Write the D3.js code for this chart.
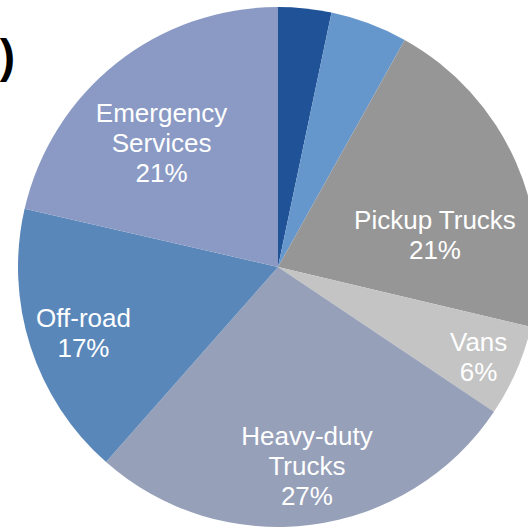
<!DOCTYPE html>
<html>
<head>
<meta charset="utf-8">
<script src="https://cdn.jsdelivr.net/npm/d3@7"></script>
<style>
  html, body { margin: 0; padding: 0; background: #ffffff; overflow: hidden; }
  svg { display: block; }
</style>
</head>
<body>
<svg id="chart" width="528" height="528"></svg>
<script>
// ---- data ----
const categories = ["Cars", "SUVs", "Pickup Trucks", "Vans", "Heavy-duty Trucks", "Off-road", "Emergency Services"];
const values = [3.3, 4.8, 20.6, 5.7, 27.1, 17.1, 21.4];
const labelLines = [null, null, ["Pickup Trucks"], ["Vans"], ["Heavy-duty", "Trucks"], ["Off-road"], ["Emergency", "Services"]];
const colors = ["#1f5296", "#6596cc", "#969696", "#c4c4c4", "#96a0b9", "#5a87b9", "#8a9ac4"];

// ---- layout (not data) ----
const cx = 278, cy = 267, R = 260;
const labelRadius = [0, 0, 0.616, 0.846, 0.773, 0.79, 0.654];
const labelAngleNudge = [0, 0, 12.3, 0.6, -0.9, -0.9, -4.7]; // degrees
const fontSize = 26, lineH = 30;

const svg = d3.select("#chart");

// clipped title remnant
svg.append("text")
  .attr("x", 15).attr("y", 72)
  .attr("text-anchor", "end")
  .attr("font-family", "Liberation Sans, Arial, sans-serif")
  .attr("font-weight", "bold")
  .attr("font-size", 46)
  .attr("fill", "#000")
  .text(")");

const pie = d3.pie().sort(null).value(d => d.value).startAngle(0).endAngle(2 * Math.PI);
const data = categories.map((c, i) => ({ name: c, value: values[i], i }));
const arcs = pie(data);
const total = d3.sum(values);

const arc = d3.arc().innerRadius(0).outerRadius(R);

const g = svg.append("g").attr("transform", `translate(${cx},${cy})`);

g.selectAll("path.slice")
  .data(arcs)
  .join("path")
  .attr("class", "slice")
  .attr("d", arc)
  .attr("fill", d => colors[d.data.i]);

const labels = g.selectAll("text.lbl")
  .data(arcs.filter(d => labelLines[d.data.i]))
  .join("text")
  .attr("class", "lbl")
  .attr("font-family", "Liberation Sans, Arial, sans-serif")
  .attr("font-size", fontSize)
  .attr("fill", "#ffffff")
  .attr("text-anchor", "middle")
  .each(function(d) {
    const i = d.data.i;
    const mid = (d.startAngle + d.endAngle) / 2 + labelAngleNudge[i] * Math.PI / 180;
    const r = labelRadius[i] * R;
    const x = r * Math.sin(mid);
    const y = -r * Math.cos(mid);
    const lines = labelLines[i].concat([Math.round(d.data.value / total * 100) + "%"]);
    const n = lines.length;
    const t = d3.select(this);
    lines.forEach((ln, k) => {
      t.append("tspan")
        .attr("x", x)
        .attr("y", y + (k - (n - 1) / 2) * lineH + 9)
        .text(ln);
    });
  });
</script>
</body>
</html>
